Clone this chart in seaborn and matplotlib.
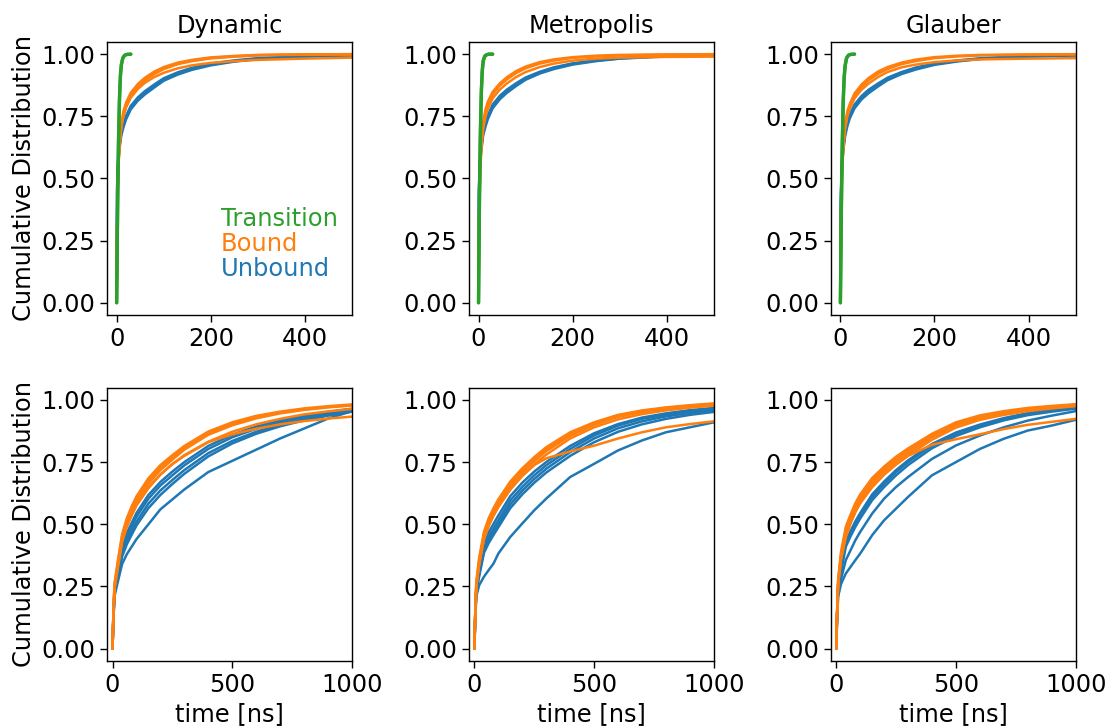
import matplotlib
matplotlib.use("Agg")
import matplotlib.pyplot as plt
import seaborn as sns
import pandas as pd

# ---------------- data ----------------
METHODS = ["Dynamic", "Metropolis", "Glauber"]
KINDS = ["Unbound", "Bound", "Transition"]
COLORS = {"Unbound": "#1f77b4", "Bound": "#ff7f0e", "Transition": "#2ca02c"}

# top row time grid [ns]
T_TOP = [0, 1, 2, 4, 7, 10, 15, 20, 30, 45, 60, 80, 100, 130, 160, 200, 250, 300, 400, 500]
# transition time grid [ns]
T_TRANS = [0, 1, 2, 3, 4, 6, 8, 10, 13, 17, 22, 30]
# bottom row time grid [ns]
T_BOT = [0, 3, 8, 20, 40, 60, 80, 100, 150, 200, 250, 300, 400, 500, 600, 700, 800, 900, 1000]

# ---- top row : Dynamic ----
DYN_TOP_BOUND = [
    [0, 0.30, 0.45, 0.58, 0.67, 0.725, 0.775, 0.805, 0.845, 0.88, 0.905, 0.93, 0.948, 0.966, 0.977, 0.987, 0.993, 0.997, 0.999, 1.0],
    [0, 0.28, 0.43, 0.56, 0.65, 0.71, 0.76, 0.79, 0.835, 0.87, 0.895, 0.92, 0.94, 0.96, 0.972, 0.983, 0.99, 0.995, 0.998, 0.999],
    [0, 0.29, 0.44, 0.57, 0.66, 0.715, 0.765, 0.795, 0.838, 0.872, 0.898, 0.924, 0.943, 0.962, 0.974, 0.985, 0.991, 0.996, 0.999, 1.0],
    [0, 0.29, 0.44, 0.565, 0.655, 0.71, 0.755, 0.785, 0.825, 0.86, 0.885, 0.908, 0.925, 0.943, 0.955, 0.965, 0.972, 0.977, 0.982, 0.986],
]
DYN_TOP_UNBOUND = [
    [0, 0.46, 0.53, 0.595, 0.645, 0.685, 0.72, 0.745, 0.785, 0.82, 0.845, 0.872, 0.898, 0.922, 0.94, 0.958, 0.972, 0.981, 0.991, 0.996],
    [0, 0.44, 0.52, 0.585, 0.635, 0.675, 0.71, 0.738, 0.778, 0.813, 0.838, 0.866, 0.893, 0.918, 0.937, 0.955, 0.97, 0.98, 0.99, 0.995],
    [0, 0.47, 0.54, 0.60, 0.65, 0.69, 0.726, 0.752, 0.792, 0.826, 0.851, 0.878, 0.903, 0.927, 0.945, 0.962, 0.975, 0.984, 0.993, 0.997],
]
DYN_TOP_TRANS = [
    [0, 0.20, 0.40, 0.55, 0.67, 0.83, 0.92, 0.96, 0.985, 0.996, 0.999, 1.0],
    [0, 0.18, 0.37, 0.52, 0.64, 0.81, 0.91, 0.955, 0.983, 0.995, 0.999, 1.0],
]

# ---- top row : Metropolis ----
MET_TOP_BOUND = [
    [0, 0.31, 0.46, 0.59, 0.68, 0.73, 0.78, 0.81, 0.848, 0.882, 0.907, 0.932, 0.95, 0.968, 0.979, 0.988, 0.994, 0.997, 0.999, 1.0],
    [0, 0.29, 0.44, 0.57, 0.66, 0.715, 0.765, 0.797, 0.838, 0.873, 0.898, 0.924, 0.943, 0.962, 0.974, 0.985, 0.991, 0.995, 0.998, 0.999],
    [0, 0.28, 0.42, 0.55, 0.64, 0.70, 0.75, 0.78, 0.822, 0.857, 0.882, 0.908, 0.928, 0.948, 0.962, 0.974, 0.982, 0.986, 0.989, 0.99],
]
MET_TOP_UNBOUND = [
    [0, 0.45, 0.53, 0.59, 0.64, 0.685, 0.72, 0.748, 0.79, 0.826, 0.851, 0.878, 0.902, 0.926, 0.944, 0.961, 0.974, 0.983, 0.992, 0.997],
    [0, 0.44, 0.52, 0.58, 0.63, 0.675, 0.71, 0.74, 0.782, 0.818, 0.844, 0.872, 0.897, 0.922, 0.94, 0.958, 0.972, 0.982, 0.991, 0.996],
    [0, 0.46, 0.54, 0.60, 0.65, 0.69, 0.727, 0.754, 0.797, 0.832, 0.857, 0.883, 0.906, 0.929, 0.947, 0.963, 0.976, 0.985, 0.993, 0.998],
]
MET_TOP_TRANS = [
    [0, 0.22, 0.43, 0.58, 0.70, 0.86, 0.94, 0.975, 0.992, 0.998, 1.0, 1.0],
    [0, 0.20, 0.40, 0.55, 0.67, 0.84, 0.93, 0.97, 0.99, 0.997, 1.0, 1.0],
]

# ---- top row : Glauber ----
GLA_TOP_BOUND = [
    [0, 0.29, 0.44, 0.57, 0.67, 0.725, 0.772, 0.80, 0.842, 0.878, 0.904, 0.93, 0.948, 0.966, 0.978, 0.988, 0.994, 0.997, 0.999, 1.0],
    [0, 0.28, 0.43, 0.56, 0.65, 0.71, 0.76, 0.79, 0.834, 0.869, 0.895, 0.921, 0.94, 0.96, 0.972, 0.984, 0.991, 0.995, 0.998, 0.999],
    [0, 0.27, 0.42, 0.55, 0.64, 0.70, 0.75, 0.78, 0.822, 0.857, 0.882, 0.908, 0.928, 0.947, 0.958, 0.968, 0.975, 0.979, 0.982, 0.984],
]
GLA_TOP_UNBOUND = [
    [0, 0.40, 0.50, 0.58, 0.635, 0.68, 0.722, 0.75, 0.79, 0.825, 0.85, 0.876, 0.9, 0.924, 0.942, 0.96, 0.973, 0.982, 0.991, 0.996],
    [0, 0.38, 0.49, 0.57, 0.625, 0.67, 0.712, 0.742, 0.782, 0.818, 0.843, 0.87, 0.895, 0.92, 0.938, 0.957, 0.971, 0.981, 0.99, 0.995],
    [0, 0.41, 0.51, 0.59, 0.645, 0.69, 0.73, 0.758, 0.797, 0.832, 0.857, 0.882, 0.905, 0.928, 0.946, 0.963, 0.975, 0.984, 0.993, 0.997],
]
GLA_TOP_TRANS = [
    [0, 0.19, 0.38, 0.53, 0.65, 0.82, 0.91, 0.955, 0.985, 0.996, 0.999, 1.0],
    [0, 0.17, 0.35, 0.50, 0.62, 0.80, 0.90, 0.95, 0.982, 0.995, 0.999, 1.0],
]

# ---- bottom row : Dynamic ----
DYN_BOT_BOUND = [
    [0, 0.12, 0.26, 0.34, 0.46, 0.525, 0.572, 0.612, 0.685, 0.738, 0.778, 0.815, 0.873, 0.91, 0.936, 0.953, 0.966, 0.975, 0.982],
    [0, 0.11, 0.25, 0.33, 0.45, 0.515, 0.562, 0.602, 0.675, 0.728, 0.77, 0.808, 0.866, 0.904, 0.931, 0.949, 0.962, 0.972, 0.979],
    [0, 0.12, 0.25, 0.32, 0.44, 0.505, 0.552, 0.592, 0.664, 0.718, 0.76, 0.80, 0.86, 0.898, 0.926, 0.946, 0.96, 0.97, 0.978],
    [0, 0.11, 0.24, 0.32, 0.43, 0.495, 0.54, 0.58, 0.65, 0.70, 0.742, 0.778, 0.832, 0.872, 0.902, 0.924, 0.942, 0.954, 0.964],
    [0, 0.11, 0.24, 0.31, 0.43, 0.49, 0.535, 0.575, 0.645, 0.70, 0.742, 0.775, 0.83, 0.862, 0.884, 0.902, 0.915, 0.925, 0.933],
]
DYN_BOT_UNBOUND = [
    [0, 0.11, 0.23, 0.30, 0.41, 0.465, 0.505, 0.545, 0.618, 0.67, 0.712, 0.75, 0.815, 0.86, 0.893, 0.918, 0.937, 0.952, 0.965],
    [0, 0.11, 0.23, 0.29, 0.396, 0.449, 0.49, 0.53, 0.603, 0.656, 0.697, 0.737, 0.803, 0.85, 0.884, 0.91, 0.93, 0.947, 0.96],
    [0, 0.10, 0.22, 0.28, 0.38, 0.432, 0.472, 0.51, 0.583, 0.636, 0.678, 0.718, 0.786, 0.835, 0.872, 0.90, 0.922, 0.94, 0.955],
    [0, 0.10, 0.22, 0.275, 0.37, 0.42, 0.458, 0.495, 0.565, 0.618, 0.662, 0.703, 0.773, 0.825, 0.864, 0.894, 0.918, 0.937, 0.953],
    [0, 0.10, 0.21, 0.26, 0.34, 0.38, 0.41, 0.44, 0.50, 0.56, 0.60, 0.64, 0.71, 0.755, 0.80, 0.845, 0.885, 0.925, 0.955],
]

# ---- bottom row : Metropolis ----
MET_BOT_BOUND = [
    [0, 0.13, 0.27, 0.365, 0.47, 0.525, 0.565, 0.60, 0.672, 0.725, 0.77, 0.81, 0.87, 0.91, 0.94, 0.958, 0.97, 0.979, 0.986],
    [0, 0.12, 0.26, 0.356, 0.46, 0.516, 0.556, 0.59, 0.663, 0.717, 0.763, 0.803, 0.864, 0.906, 0.937, 0.955, 0.968, 0.977, 0.984],
    [0, 0.12, 0.25, 0.345, 0.448, 0.505, 0.545, 0.58, 0.652, 0.707, 0.753, 0.794, 0.856, 0.90, 0.932, 0.951, 0.965, 0.975, 0.982],
    [0, 0.12, 0.25, 0.34, 0.44, 0.495, 0.535, 0.57, 0.64, 0.695, 0.74, 0.78, 0.845, 0.89, 0.922, 0.943, 0.958, 0.969, 0.977],
    [0, 0.12, 0.25, 0.34, 0.44, 0.495, 0.535, 0.57, 0.64, 0.695, 0.738, 0.765, 0.793, 0.816, 0.845, 0.87, 0.89, 0.903, 0.914],
]
MET_BOT_UNBOUND = [
    [0, 0.12, 0.25, 0.32, 0.425, 0.468, 0.502, 0.535, 0.613, 0.667, 0.712, 0.75, 0.815, 0.866, 0.903, 0.929, 0.946, 0.959, 0.968],
    [0, 0.11, 0.24, 0.31, 0.41, 0.45, 0.483, 0.516, 0.596, 0.65, 0.697, 0.737, 0.803, 0.857, 0.897, 0.924, 0.941, 0.955, 0.964],
    [0, 0.11, 0.23, 0.30, 0.395, 0.435, 0.468, 0.50, 0.58, 0.635, 0.682, 0.723, 0.79, 0.845, 0.886, 0.914, 0.934, 0.948, 0.959],
    [0, 0.11, 0.23, 0.29, 0.385, 0.425, 0.457, 0.488, 0.565, 0.62, 0.667, 0.708, 0.775, 0.83, 0.872, 0.902, 0.924, 0.94, 0.952],
    [0, 0.10, 0.21, 0.255, 0.289, 0.316, 0.342, 0.382, 0.449, 0.503, 0.556, 0.603, 0.69, 0.743, 0.797, 0.837, 0.87, 0.89, 0.91],
]

# ---- bottom row : Glauber ----
GLA_BOT_BOUND = [
    [0, 0.13, 0.28, 0.39, 0.49, 0.54, 0.585, 0.62, 0.686, 0.732, 0.772, 0.805, 0.864, 0.91, 0.938, 0.955, 0.968, 0.976, 0.983],
    [0, 0.13, 0.27, 0.38, 0.476, 0.53, 0.576, 0.61, 0.676, 0.723, 0.763, 0.797, 0.857, 0.904, 0.933, 0.95, 0.964, 0.973, 0.981],
    [0, 0.12, 0.27, 0.37, 0.463, 0.518, 0.563, 0.598, 0.664, 0.712, 0.753, 0.788, 0.85, 0.898, 0.928, 0.946, 0.96, 0.97, 0.978],
    [0, 0.12, 0.26, 0.36, 0.45, 0.505, 0.55, 0.585, 0.65, 0.70, 0.742, 0.778, 0.84, 0.889, 0.92, 0.94, 0.955, 0.966, 0.975],
    [0, 0.12, 0.26, 0.36, 0.45, 0.505, 0.55, 0.585, 0.65, 0.70, 0.74, 0.775, 0.82, 0.842, 0.862, 0.883, 0.90, 0.912, 0.924],
]
GLA_BOT_UNBOUND = [
    [0, 0.13, 0.26, 0.33, 0.432, 0.473, 0.512, 0.545, 0.62, 0.672, 0.718, 0.757, 0.823, 0.869, 0.901, 0.927, 0.947, 0.96, 0.97],
    [0, 0.12, 0.25, 0.32, 0.422, 0.463, 0.503, 0.536, 0.61, 0.663, 0.71, 0.75, 0.817, 0.864, 0.897, 0.924, 0.944, 0.957, 0.968],
    [0, 0.12, 0.25, 0.31, 0.41, 0.452, 0.49, 0.523, 0.597, 0.65, 0.697, 0.738, 0.806, 0.855, 0.89, 0.918, 0.939, 0.953, 0.965],
    [0, 0.11, 0.23, 0.28, 0.356, 0.396, 0.436, 0.469, 0.543, 0.603, 0.65, 0.69, 0.763, 0.817, 0.857, 0.89, 0.917, 0.937, 0.955],
    [0, 0.10, 0.21, 0.26, 0.302, 0.329, 0.356, 0.382, 0.456, 0.516, 0.563, 0.61, 0.697, 0.75, 0.803, 0.844, 0.877, 0.897, 0.92],
]

TOP_DATA = {
    "Dynamic": (DYN_TOP_UNBOUND, DYN_TOP_BOUND, DYN_TOP_TRANS),
    "Metropolis": (MET_TOP_UNBOUND, MET_TOP_BOUND, MET_TOP_TRANS),
    "Glauber": (GLA_TOP_UNBOUND, GLA_TOP_BOUND, GLA_TOP_TRANS),
}
BOT_DATA = {
    "Dynamic": (DYN_BOT_UNBOUND, DYN_BOT_BOUND),
    "Metropolis": (MET_BOT_UNBOUND, MET_BOT_BOUND),
    "Glauber": (GLA_BOT_UNBOUND, GLA_BOT_BOUND),
}

Y_TICKS = [0.0, 0.25, 0.5, 0.75, 1.0]
TOP_XTICKS = [0, 200, 400]
BOT_XTICKS = [0, 500, 1000]


def to_frame(curves, times, kind):
    rows = []
    for i, c in enumerate(curves):
        for t, v in zip(times, c):
            rows.append({"time": t, "cdf": v, "kind": kind, "curve": f"{kind}{i}"})
    return pd.DataFrame(rows)


# ---------------- figure ----------------
sns.set_style("ticks")
plt.rcParams["font.family"] = ["DejaVu Sans"]
FS = 17.4
plt.rcParams.update({
    "font.size": FS, "axes.labelsize": FS, "axes.titlesize": FS,
    "xtick.labelsize": FS, "ytick.labelsize": FS,
    "text.color": "black", "axes.labelcolor": "black",
    "xtick.color": "black", "ytick.color": "black", "axes.edgecolor": "black",
})

fig, axes = plt.subplots(2, 3, figsize=(11.08, 7.27), dpi=100)
fig.subplots_adjust(left=0.0968, right=0.9708, bottom=0.0908, top=0.9426,
                    wspace=0.479, hspace=0.2646)

LW = 1.8
for j, m in enumerate(METHODS):
    ax = axes[0, j]
    ub, bd, tr = TOP_DATA[m]
    sns.lineplot(data=to_frame(ub, T_TOP, "Unbound"), x="time", y="cdf", units="curve",
                 estimator=None, color=COLORS["Unbound"], lw=LW, ax=ax, legend=False)
    sns.lineplot(data=to_frame(bd, T_TOP, "Bound"), x="time", y="cdf", units="curve",
                 estimator=None, color=COLORS["Bound"], lw=LW, ax=ax, legend=False)
    sns.lineplot(data=to_frame(tr, T_TRANS, "Transition"), x="time", y="cdf", units="curve",
                 estimator=None, color=COLORS["Transition"], lw=2.4, ax=ax, legend=False)
    ax.set_xlim(-20, 500)
    ax.set_ylim(-0.05, 1.05)
    ax.set_xticks(TOP_XTICKS)
    ax.set_yticks(Y_TICKS)
    ax.set_title(m, color="black")
    ax.set_xlabel("")
    ax.set_ylabel("Cumulative Distribution" if j == 0 else "")

    ax = axes[1, j]
    ub, bd = BOT_DATA[m]
    sns.lineplot(data=to_frame(ub, T_BOT, "Unbound"), x="time", y="cdf", units="curve",
                 estimator=None, color=COLORS["Unbound"], lw=LW, ax=ax, legend=False)
    sns.lineplot(data=to_frame(bd, T_BOT, "Bound"), x="time", y="cdf", units="curve",
                 estimator=None, color=COLORS["Bound"], lw=LW, ax=ax, legend=False)
    ax.set_xlim(-22, 1000)
    ax.set_ylim(-0.05, 1.05)
    ax.set_xticks(BOT_XTICKS)
    ax.set_yticks(Y_TICKS)
    ax.set_xlabel("time [ns]")
    ax.set_ylabel("Cumulative Distribution" if j == 0 else "")

for a in axes.flat:
    for s in a.spines.values():
        s.set_color("black")
        s.set_linewidth(1.0)
    a.tick_params(length=5, width=1.0, color="black", labelcolor="black")

# text legend in first panel
leg_ax = axes[0, 0]
for lab, yy in [("Transition", 0.351), ("Bound", 0.26), ("Unbound", 0.168)]:
    leg_ax.text(0.465, yy, lab, color=COLORS[lab], transform=leg_ax.transAxes,
                ha="left", va="center", fontsize=FS)

fig.savefig("out.png", dpi=100)
